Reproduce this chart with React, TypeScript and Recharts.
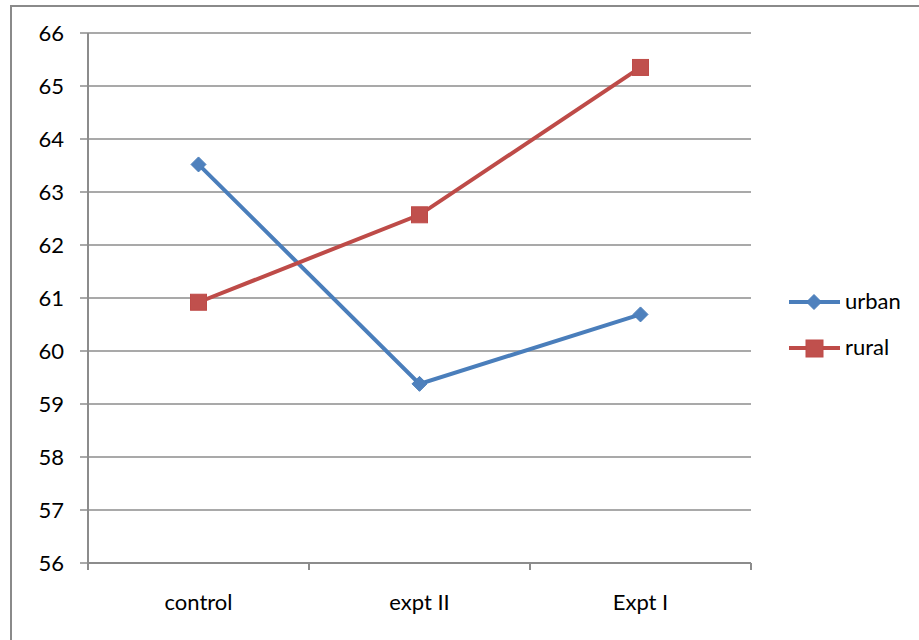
import React from "react";
import { LineChart, Line, XAxis, YAxis, CartesianGrid } from "recharts";

const categories = ["control", "expt II", "Expt I"];
const urban = [63.52, 59.38, 60.69];
const rural = [60.92, 62.57, 65.35];
const yTicks = [56, 57, 58, 59, 60, 61, 62, 63, 64, 65, 66];
const xTicks = [0, 0.5, 1, 1.5, 2, 2.5, 3];

const data = categories.map((c, i) => ({ x: i + 0.5, name: c, urban: urban[i], rural: rural[i] }));

const BLUE = "#4A7EBB";
const BLUE_FILL = "#4F81BD";
const RED = "#BE4B48";
const RED_FILL = "#C0504D";
const GRID = "#8c8c8c";
const FONT = "Lato, 'Open Sans', sans-serif";
const FS = 22;

const Diamond = (props: any) => {
  const { cx, cy } = props;
  if (cx == null || cy == null) return null;
  const r = 7.5;
  return (
    <polygon
      points={`${cx},${cy - r} ${cx + r},${cy} ${cx},${cy + r} ${cx - r},${cy}`}
      fill={BLUE_FILL}
      stroke={BLUE}
      strokeWidth={1}
    />
  );
};

const Square = (props: any) => {
  const { cx, cy } = props;
  if (cx == null || cy == null) return null;
  const s = 8;
  return <rect x={cx - s} y={cy - s} width={2 * s} height={2 * s} fill={RED_FILL} stroke={RED} strokeWidth={1} />;
};

const XTick = (props: any) => {
  const { x, y, payload } = props;
  const v = payload.value as number;
  if (Number.isInteger(v)) {
    return <line x1={x} y1={y - 8} x2={x} y2={y - 1} stroke={GRID} strokeWidth={2} />;
  }
  return (
    <text x={x} y={y + 39} textAnchor="middle" fontFamily={FONT} fontSize={FS} fill="#000">
      {categories[Math.floor(v)]}
    </text>
  );
};

export default function App() {
  return (
    <div style={{ position: "absolute", left: 0, top: 0, width: 919, height: 640, overflow: "hidden", background: "#fff" }}>
      <div
        style={{
          position: "absolute",
          left: 10,
          top: 5,
          width: 1200,
          height: 1200,
          border: "2.5px solid #8a8a8a",
          boxSizing: "border-box",
        }}
      />
      <div style={{ position: "absolute", left: 0, top: 0 }}>
        <LineChart width={919} height={640} data={data} margin={{ top: 33, right: 168, bottom: 0, left: 0 }}>
          <CartesianGrid horizontal vertical={false} stroke={GRID} strokeWidth={1.5} />
          <XAxis
            dataKey="x"
            type="number"
            domain={[0, 3]}
            ticks={xTicks}
            interval={0}
            height={77}
            axisLine={{ stroke: GRID, strokeWidth: 2 }}
            tickLine={false}
            tick={<XTick />}
          />
          <YAxis
            domain={[56, 66]}
            ticks={yTicks}
            interval={0}
            width={88}
            tickSize={8}
            tickMargin={16}
            axisLine={{ stroke: GRID, strokeWidth: 2 }}
            tickLine={{ stroke: GRID, strokeWidth: 1.5 }}
            tick={{ fill: "#000", fontSize: FS, fontFamily: FONT }}
          />
          <Line
            type="linear"
            dataKey="urban"
            stroke={BLUE}
            strokeWidth={4}
            dot={<Diamond />}
            activeDot={false}
            isAnimationActive={false}
          />
          <Line
            type="linear"
            dataKey="rural"
            stroke={RED}
            strokeWidth={4}
            dot={<Square />}
            activeDot={false}
            isAnimationActive={false}
          />
        </LineChart>
      </div>
      <svg style={{ position: "absolute", left: 780, top: 280 }} width={139} height={90}>
        <line x1={9} y1={22} x2={60} y2={22} stroke={BLUE} strokeWidth={4} />
        <polygon points="34,14.5 41.5,22 34,29.5 26.5,22" fill={BLUE_FILL} stroke={BLUE} strokeWidth={1} />
        <text x={65} y={29} fontFamily={FONT} fontSize={FS} fill="#000">urban</text>
        <line x1={9} y1={68} x2={60} y2={68} stroke={RED} strokeWidth={4} />
        <rect x={26} y={60} width={17} height={17} fill={RED_FILL} stroke={RED} strokeWidth={1} />
        <text x={65} y={75} fontFamily={FONT} fontSize={FS} fill="#000">rural</text>
      </svg>
    </div>
  );
}
